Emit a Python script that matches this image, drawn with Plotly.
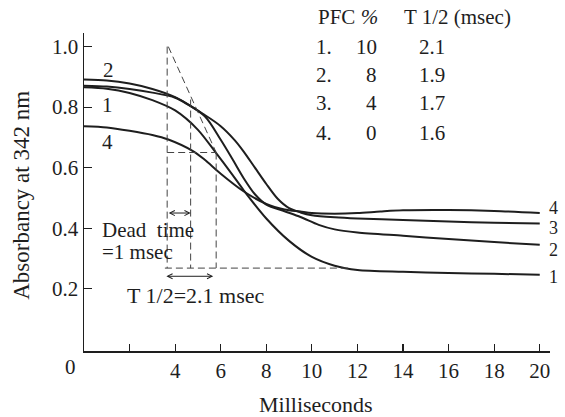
import plotly.graph_objects as go

# ---- data ----
t1 = [0, 1, 2, 3, 4, 5, 5.8, 6.5, 7.0, 8.0, 9.0, 10.0, 11.0, 12.0, 14.0, 16.0, 18.0, 20.0]
a1 = [0.866, 0.861, 0.847, 0.823, 0.789, 0.725, 0.648, 0.578, 0.526, 0.432, 0.358, 0.305, 0.276, 0.262, 0.256, 0.252, 0.249, 0.246]

t2 = [0, 1, 2, 3, 4, 5.3, 6.0, 6.5, 7.0, 7.5, 8.0, 8.8, 9.5, 10.3, 11.0, 12.0, 14.0, 16.0, 18.0, 20.0]
a2 = [0.891, 0.888, 0.878, 0.860, 0.833, 0.770, 0.692, 0.630, 0.566, 0.512, 0.478, 0.456, 0.437, 0.411, 0.396, 0.386, 0.375, 0.364, 0.354, 0.345]

t3 = [0, 1, 2, 3, 4, 5.3, 6.0, 6.6, 7.0, 7.5, 8.0, 8.5, 9.0, 9.5, 10.0, 11.0, 12.0, 14.0, 16.0, 18.0, 20.0]
a3 = [0.871, 0.868, 0.860, 0.848, 0.831, 0.774, 0.737, 0.692, 0.654, 0.600, 0.546, 0.497, 0.466, 0.452, 0.443, 0.436, 0.432, 0.427, 0.422, 0.418, 0.415]

t4 = [0, 1, 2, 3, 3.7, 4.8, 5.3, 6.0, 7.0, 8.0, 8.8, 9.5, 10.0, 11.0, 12.0, 13.0, 14.0, 16.0, 18.0, 20.0]
a4 = [0.737, 0.733, 0.722, 0.708, 0.693, 0.654, 0.626, 0.580, 0.522, 0.480, 0.462, 0.455, 0.450, 0.448, 0.450, 0.455, 0.459, 0.460, 0.457, 0.450]

curve_names = ["1", "2", "3", "4"]

# construction lines (half-time determination for curve 1)
dead_start, dead_end, half_x = 3.65, 4.68, 5.80
apex_y, half_y, final_y = 1.0, 0.65, 0.268
v2_top, base_start, base_end = 0.825, 3.55, 11.6
arrow_dead_y, arrow_half_y, arrow_half_start, arrow_half_end = 0.45, 0.241, 3.55, 5.67

# table
table_rows = ["1.", "2.", "3.", "4."]
pfc_pct = ["10", "8", "4", "0"]
t_half = ["2.1", "1.9", "1.7", "1.6"]

x_tickvals = [2, 4, 6, 8, 10, 12, 14, 16, 18, 20]
x_ticktext = ["", "4", "6", "8", "10", "12", "14", "16", "18", "20"]
y_tickvals = [0.2, 0.4, 0.6, 0.8, 1.0]
y_ticktext = ["0.2", "0.4", "0.6", "0.8", "1.0"]

X_RANGE = [0, 20.45]
Y_RANGE = [-0.006, 1.045]

FONT = "Liberation Serif"
INK = "#1e1e1e"
fs = 21


def px_(x):
    return (x - X_RANGE[0]) / (X_RANGE[1] - X_RANGE[0])


def py_(y):
    return (y - Y_RANGE[0]) / (Y_RANGE[1] - Y_RANGE[0])


fig = go.Figure()
for t, a, n in [(t1, a1, "1"), (t2, a2, "2"), (t3, a3, "3"), (t4, a4, "4")]:
    fig.add_trace(go.Scatter(x=t, y=a, mode="lines", name=n,
                             line=dict(color=INK, width=2, shape="spline", smoothing=0.8),
                             showlegend=False, hoverinfo="skip"))

dash_x = [dead_start, dead_start, None,
          dead_start + 0.05, half_x, None,
          dead_end, dead_end, None,
          half_x, half_x, None,
          dead_start, half_x, None,
          base_start, base_end]
dash_y = [apex_y, final_y, None,
          apex_y, half_y, None,
          v2_top, final_y, None,
          half_y, final_y, None,
          half_y, half_y, None,
          final_y, final_y]
fig.add_trace(go.Scatter(x=dash_x, y=dash_y, mode="lines",
                         line=dict(color="#444", width=1, dash="7px,4px"),
                         showlegend=False, hoverinfo="skip"))

ann = []


def txt(x, y, s, xanchor="left", size=fs, angle=0):
    # positions given in data units, placed through paper coordinates
    ann.append(dict(x=px_(x), y=py_(y), xref="paper", yref="paper", text=s, showarrow=False,
                    xanchor=xanchor, yanchor="middle", textangle=angle,
                    font=dict(family=FONT, size=size, color=INK)))


# double arrows
for (x0, x1, y) in [(dead_start, dead_end, arrow_dead_y), (arrow_half_start, arrow_half_end, arrow_half_y)]:
    ann.append(dict(x=x1, y=y, ax=x0, ay=y, xref="x", yref="y", axref="x", ayref="y",
                    text="", showarrow=True, arrowhead=5, arrowside="end+start",
                    arrowsize=1, arrowwidth=1, arrowcolor=INK, standoff=0, startstandoff=0))

txt(0.7, 0.395, "Dead  time")
txt(0.7, 0.322, "=1 msec")
txt(1.8, 0.177, "T 1/2=2.1 msec", size=22)

# table
txt(10.18, 1.099, "PFC <i>%</i>")
txt(13.95, 1.099, "T 1/2 (msec)")
row_y = [1.0, 0.907, 0.812, 0.716]
for r, p, th, y in zip(table_rows, pfc_pct, t_half, row_y):
    txt(10.1, y, r)
    txt(12.95, y, p, xanchor="right")
    txt(14.6, y, th)

# curve labels
for n, y in zip(["4", "3", "2", "1"], [0.468, 0.402, 0.328, 0.24]):
    txt(20.3, y, n, size=18)
for n, x, y in [("2", 0.75, 0.924), ("1", 0.7, 0.808), ("4", 0.7, 0.686)]:
    txt(x, y, n)

# origin label and axis titles
txt(-0.6, -0.06, "0", xanchor="center")
txt(10.2, -0.183, "Milliseconds", xanchor="center", size=22)
txt(-2.72, 0.507, "Absorbancy at 342 nm", xanchor="center", size=23, angle=-90)

fig.update_layout(
    width=565, height=417, autosize=False,
    margin=dict(l=84, r=15, t=33, b=66),
    paper_bgcolor="white", plot_bgcolor="white",
    font=dict(family=FONT, size=fs, color=INK),
    annotations=ann,
    xaxis=dict(range=X_RANGE, showgrid=False, zeroline=False, showline=True,
               linecolor=INK, linewidth=1.5, ticks="inside", ticklen=7, tickwidth=1.2,
               tickcolor=INK, tickvals=x_tickvals, ticktext=x_ticktext,
               tickfont=dict(family=FONT, size=fs, color=INK)),
    yaxis=dict(range=Y_RANGE, showgrid=False, zeroline=False, showline=True,
               linecolor=INK, linewidth=1.5, ticks="inside", ticklen=8, tickwidth=1.2,
               tickcolor=INK, tickvals=y_tickvals, ticktext=y_ticktext,
               tickfont=dict(family=FONT, size=fs, color=INK)),
)

fig.write_html("out.html", config={"displayModeBar": False, "staticPlot": True},
               post_script="document.body.style.margin='0';document.body.style.overflow='hidden';")
